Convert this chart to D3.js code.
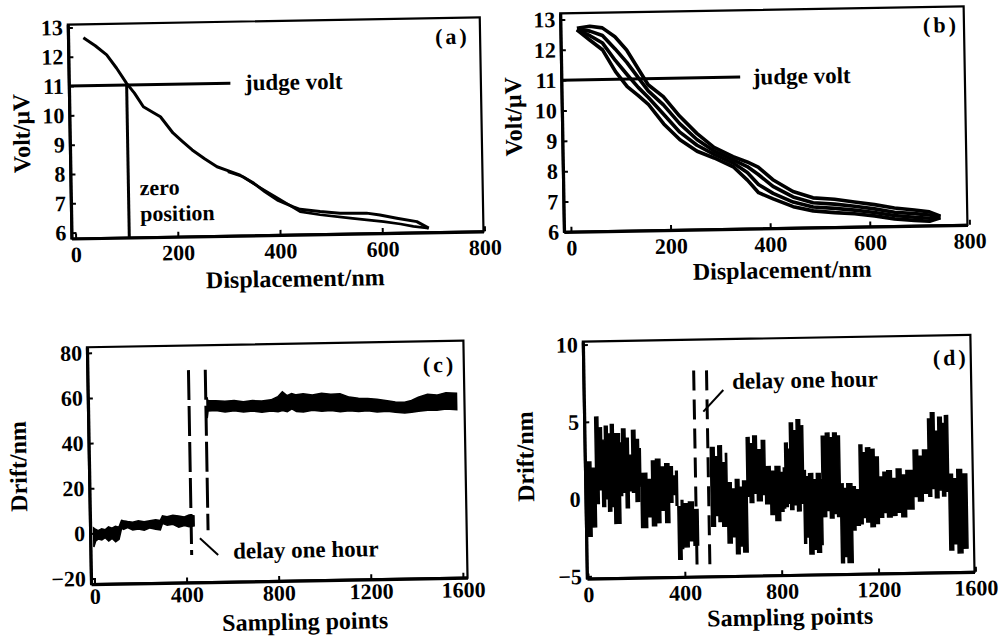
<!DOCTYPE html>
<html>
<head>
<meta charset="utf-8">
<script src="https://cdn.jsdelivr.net/npm/d3@7"></script>
<style>
  body { margin: 0; background: #fff; }
  svg { display: block; font-family: "Liberation Serif", "DejaVu Serif", serif; font-weight: bold; }
</style>
</head>
<body>
<script>
// ---- data ----

// (a) single approach curve + the return branch near the end
var aX = [22, 45, 67, 86, 105, 120, 137, 155, 170, 194, 212, 231, 255, 279, 300, 324, 350, 372, 396, 427, 440, 479, 518, 570, 596, 629, 668, 691]
var aV = [12.64, 12.36, 12.04, 11.58, 11.06, 10.72, 10.25, 10.06, 9.90, 9.34, 9.05, 8.75, 8.44, 8.16, 8.02, 7.86, 7.58, 7.28, 6.99, 6.75, 6.66, 6.57, 6.50, 6.49, 6.42, 6.30, 6.17, 5.94]
var aBackX = [300, 330, 360, 400, 440, 479, 538, 570, 603, 636, 661, 691]
var aBackV = [7.98, 7.80, 7.45, 7.02, 6.58, 6.46, 6.33, 6.26, 6.19, 6.10, 6.01, 5.94]

// (b) four repeated curves
var bX = [19, 45, 70, 95, 118, 140, 160, 190, 222, 256, 290, 328, 356, 378, 407, 447, 487, 530, 570, 610, 650, 690, 720, 742]
var bV1 = [12.70, 12.76, 12.70, 12.40, 11.96, 11.35, 10.80, 10.40, 9.75, 9.17, 8.70, 8.38, 8.20, 8.02, 7.60, 7.20, 6.98, 6.92, 6.82, 6.72, 6.60, 6.52, 6.45, 6.30]
var bV2 = [12.68, 12.60, 12.45, 12.00, 11.55, 11.05, 10.60, 10.13, 9.50, 8.97, 8.58, 8.28, 8.05, 7.78, 7.38, 7.02, 6.82, 6.76, 6.68, 6.58, 6.46, 6.40, 6.35, 6.28]
var bV3 = [12.66, 12.45, 12.20, 11.62, 11.15, 10.72, 10.38, 9.82, 9.22, 8.78, 8.47, 8.17, 7.85, 7.45, 7.15, 6.85, 6.68, 6.62, 6.55, 6.46, 6.35, 6.28, 6.24, 6.26]
var bV4 = [12.65, 12.30, 11.97, 11.25, 10.75, 10.45, 10.15, 9.50, 8.97, 8.58, 8.35, 8.05, 7.60, 7.18, 6.97, 6.70, 6.55, 6.48, 6.43, 6.35, 6.24, 6.18, 6.14, 6.25]

// (c) drift band before and after the one hour delay (upper / lower edge)
var cX1 = [0, 8, 20, 35, 50, 65, 80, 95, 110, 122, 130, 148, 170, 195, 220, 245, 270, 290, 300, 320, 345, 370, 395, 415, 437]
var cHi1 = [2.4, 1.8, 1.2, 2.0, 1.5, 2.8, 2.2, 3.0, 2.5, 5.6, 5.4, 5.0, 4.6, 5.3, 4.8, 5.2, 5.6, 5.2, 7.2, 6.8, 7.4, 7.0, 6.6, 7.4, 7.0]
var cLo1 = [-6.0, -3.5, -2.5, -3.0, -2.0, -3.5, -2.4, -3.9, -2.8, 2.1, 1.5, 2.3, 1.2, 1.6, 1.0, 2.0, 1.4, 1.0, 3.9, 3.0, 3.4, 2.1, 2.8, 2.2, 2.6]
var cX2 = [502, 506, 540, 580, 620, 660, 700, 740, 780, 810, 830, 850, 870, 890, 920, 960, 1000, 1040, 1080, 1120, 1160, 1200, 1240, 1285, 1320, 1360, 1390, 1420, 1460, 1500, 1540, 1586]
var cHi2 = [59.5, 58.0, 57.8, 57.5, 57.8, 57.2, 57.6, 57.4, 57.8, 59.1, 61.3, 59.5, 60.4, 59.8, 60.2, 59.6, 60.3, 59.8, 60.0, 58.4, 57.8, 57.6, 57.2, 56.5, 55.9, 55.7, 56.4, 57.8, 59.0, 58.6, 59.6, 59.3]
var cLo2 = [50.2, 53.3, 53.5, 52.8, 53.2, 52.6, 53.0, 52.4, 52.8, 52.5, 53.0, 52.4, 53.6, 52.4, 52.2, 52.8, 52.3, 52.6, 52.0, 52.4, 51.9, 52.2, 51.6, 51.8, 51.3, 50.9, 51.2, 51.6, 52.0, 51.9, 52.4, 52.0]

// (d) compensated drift, blocks of noise (upper / lower edge)
var dX1 = [0, 20, 39, 52, 66, 78, 90, 103, 115, 128, 140, 149, 163, 176, 190, 204, 218, 225, 250, 270, 287, 305, 325, 342, 356, 369, 376, 390, 397, 420, 440, 459]
var dHi1 = [2.4, 2.0, 5.3, 4.6, 3.8, 4.7, 4.2, 4.8, 4.2, 4.2, 3.6, 4.5, 3.9, 2.8, 4.4, 3.8, 3.2, 1.6, 1.2, 2.4, 2.5, 2.0, 2.2, 2.0, 1.4, 1.7, -0.6, -0.2, -0.4, -0.3, -0.8, -0.8]
var dLo1 = [-2.4, -1.8, -0.3, 0.6, -0.5, 0.0, -0.8, -0.5, -1.6, -1.6, 0.2, 0.4, -0.6, 0.5, 0.4, -0.2, 0.8, -1.9, -1.2, -1.8, -1.6, -0.8, -1.6, -0.3, 0.2, -0.5, -4.0, -3.3, -3.2, -2.8, -3.1, -3.1]
var dX2 = [514, 530, 545, 560, 576, 581, 598, 615, 630, 645, 663, 675, 690, 705, 725, 739, 760, 780, 800, 814, 821, 832, 842, 855, 870, 885, 897, 905, 918, 935, 950, 966, 973, 990, 1005, 1020, 1035, 1048, 1060, 1075, 1096, 1110, 1128, 1140, 1155, 1172, 1190, 1207, 1225, 1241, 1260, 1280, 1300, 1320, 1351, 1370, 1390, 1413, 1425, 1440, 1455, 1470, 1483, 1496, 1512, 1530, 1550, 1571]
var dHi2 = [3.2, 2.6, 3.3, 2.2, 2.8, 0.9, 0.5, 1.1, 0.6, 1.0, 3.8, 3.4, 3.9, 3.0, 3.6, 1.9, 1.6, 1.9, 1.5, 1.8, 3.4, 3.0, 4.7, 4.2, 4.9, 4.5, 1.6, 1.2, 1.4, 1.0, 1.4, 1.0, 3.8, 4.0, 3.7, 4.0, 3.8, 0.7, 0.4, 0.7, 0.5, 0.3, 3.2, 2.7, 3.0, 2.9, 2.4, 1.1, 1.4, 1.5, 1.0, 1.6, 1.2, 1.5, 2.8, 2.4, 2.8, 4.8, 5.2, 4.0, 4.9, 4.5, 5.0, 1.2, 0.9, 1.5, 1.2, 1.2]
var dLo2 = [-1.9, -1.2, -1.6, -1.9, -1.0, -3.0, -2.6, -3.7, -3.2, -3.6, 0.0, -0.4, 0.2, -0.3, 0.1, -0.5, -1.2, -1.6, -1.0, -0.8, -0.7, -0.5, -0.9, -0.6, -1.0, -0.5, -3.1, -2.7, -3.8, -3.5, -3.7, -3.2, -1.4, -1.0, -1.5, -1.2, -1.4, -4.4, -4.0, -4.4, -2.3, -2.0, -1.9, -1.5, -1.8, -2.1, -1.9, -1.5, -1.2, -1.5, -1.4, -1.2, -1.5, -1.0, -0.2, -0.5, 0.0, -0.2, 0.3, -0.3, 0.2, -0.2, 0.1, -3.7, -3.3, -3.9, -3.6, -3.6]

// reference lines and marks
var judgeVolt = 11
var zeroPosition = 105
var cDelay = [424, 497]
var dDelay = [451, 504]

// tick labels
var voltTicks = [6, 7, 8, 9, 10, 11, 12, 13]
var dispTicks = [0, 200, 400, 600, 800]
var sampleTicks = [0, 400, 800, 1200, 1600]
var cDriftTicks = [-20, 0, 20, 40, 60, 80]
var dDriftTicks = [-5, 0, 5, 10]


var svg = d3.select('body').append('svg')
    .attr('width', 1007)
    .attr('height', 636)

svg.append('rect').attr('width', 1007).attr('height', 636).attr('fill', '#fff')

// the scan is turned about one degree
var page = svg.append('g').attr('transform', 'rotate(-1,503,318)')

var fmt = d3.format('d')

var panel = function(o){
  var g = page.append('g')

  var x = d3.scaleLinear().domain(o.xDom).range([o.left, o.right])
  var y = d3.scaleLinear().domain(o.yDom).range([o.bottom, o.top])

  // frame
  g.append('rect')
    .attr('x', o.left)
    .attr('y', o.top)
    .attr('width', o.right - o.left)
    .attr('height', o.bottom - o.top)
    .attr('fill', 'none')
    .attr('stroke', '#000')
    .attr('stroke-width', 2.2)

  var xAxis = d3.axisBottom(x)
    .tickValues(o.xTicks)
    .tickFormat(fmt)
    .tickSizeInner(-5)
    .tickSizeOuter(0)
    .tickPadding(o.xPad)
  g.append('g')
    .attr('class', 'axis')
    .attr('transform', 'translate(0,' + o.bottom + ')')
    .call(xAxis)

  var yAxis = d3.axisLeft(y)
    .tickValues(o.yTicks)
    .tickFormat(fmt)
    .tickSizeInner(-5)
    .tickSizeOuter(0)
    .tickPadding(5)
  g.append('g')
    .attr('class', 'axis')
    .attr('transform', 'translate(' + o.left + ',0)')
    .call(yAxis)

  g.selectAll('.axis')
    .attr('font-family', null)
    .attr('font-size', 22)
  g.selectAll('.axis .domain').attr('stroke-width', 3.2)
  g.selectAll('.axis .tick line').attr('stroke-width', 2)

  // titles
  g.append('text')
    .attr('text-anchor', 'middle')
    .attr('font-size', 24)
    .attr('x', o.xTitle[0])
    .attr('y', o.xTitle[1])
    .text(o.xLabel)

  g.append('text')
    .attr('text-anchor', 'middle')
    .attr('font-size', 24)
    .attr('dy', '0.33em')
    .attr('transform', 'translate(' + o.yTitle[0] + ',' + o.yTitle[1] + ') rotate(-90)')
    .text(o.yLabel)

  g.append('text')
    .attr('font-size', 22)
    .attr('letter-spacing', 3)
    .attr('x', o.tag[0])
    .attr('y', o.tag[1])
    .text(o.tagText)

  return {g: g, x: x, y: y}
}

var pick = function(xs, vs){
  return xs.map(function(d, i){ return [d, vs[i]] })
}
var pickBand = function(xs, hi, lo){
  return xs.map(function(d, i){ return {x: d, hi: hi[i], lo: lo[i]} })
}


// ---------- (a) ----------
var A = panel({
  left: 73, right: 485, top: 17, bottom: 231,
  xDom: [-8, 798], yDom: [5.8, 13.1],
  xTicks: dispTicks, yTicks: voltTicks, xPad: 8,
  xLabel: 'Displacement/nm', xTitle: [296, 283],
  yLabel: 'Volt/\u03bcV', yTitle: [25, 125],
  tagText: '(a)', tag: [440, 43]
})

var aLine = d3.line()
  .x(function(d){ return A.x(d[0]) })
  .y(function(d){ return A.y(d[1]) })

A.g.append('line')
  .attr('x1', A.x(A.x.domain()[0]))
  .attr('x2', A.x(308))
  .attr('y1', A.y(judgeVolt))
  .attr('y2', A.y(judgeVolt))
  .attr('stroke', '#000')
  .attr('stroke-width', 3)

A.g.append('line')
  .attr('x1', A.x(zeroPosition))
  .attr('x2', A.x(zeroPosition))
  .attr('y1', A.y(judgeVolt))
  .attr('y2', A.y(A.y.domain()[0]))
  .attr('stroke', '#000')
  .attr('stroke-width', 3)

A.g.append('path')
  .attr('d', aLine(pick(aBackX, aBackV)))
  .attr('fill', 'none')
  .attr('stroke', '#000')
  .attr('stroke-width', 2.6)
  .attr('stroke-linejoin', 'round')

A.g.append('path')
  .attr('d', aLine(pick(aX, aV)))
  .attr('fill', 'none')
  .attr('stroke', '#000')
  .attr('stroke-width', 3)
  .attr('stroke-linejoin', 'round')

A.g.append('text').attr('font-size', 23).attr('x', 249).attr('y', 86).text('judge volt')
A.g.append('text').attr('font-size', 22).attr('x', 142).attr('y', 189).text('zero')
A.g.append('text').attr('font-size', 22).attr('x', 142).attr('y', 215).text('position')


// ---------- (b) ----------
var B = panel({
  left: 565.5, right: 969, top: 14.5, bottom: 233,
  xDom: [-14, 796], yDom: [6, 13.2],
  xTicks: dispTicks, yTicks: voltTicks, xPad: 8,
  xLabel: 'Displacement/nm', xTitle: [783, 283],
  yLabel: 'Volt/\u03bcV', yTitle: [517, 117],
  tagText: '(b)', tag: [928, 40]
})

var bLine = d3.line()
  .x(function(d){ return B.x(d[0]) })
  .y(function(d){ return B.y(d[1]) })

B.g.append('line')
  .attr('x1', B.x(B.x.domain()[0]))
  .attr('x2', B.x(345))
  .attr('y1', B.y(judgeVolt))
  .attr('y2', B.y(judgeVolt))
  .attr('stroke', '#000')
  .attr('stroke-width', 3)

B.g.selectAll('.trace')
  .data([bV1, bV2, bV3, bV4])
  .enter()
  .append('path')
  .attr('class', 'trace')
  .attr('d', function(v){ return bLine(pick(bX, v)) })
  .attr('fill', 'none')
  .attr('stroke', '#000')
  .attr('stroke-width', 3.6)
  .attr('stroke-linejoin', 'round')

B.g.append('text').attr('font-size', 23).attr('x', 757).attr('y', 89).text('judge volt')


// ---------- (c) ----------
var C = panel({
  left: 86.5, right: 463, top: 340, bottom: 577,
  xDom: [-15, 1620], yDom: [-22.5, 82.5],
  xTicks: sampleTicks, yTicks: cDriftTicks, xPad: 4,
  xLabel: 'Sampling points', xTitle: [300, 626],
  yLabel: 'Drift/nm', yTitle: [16, 458],
  tagText: '(c)', tag: [422, 371]
})

var cArea = d3.area()
  .x(function(d){ return C.x(d.x) })
  .y0(function(d){ return C.y(d.lo) })
  .y1(function(d){ return C.y(d.hi) })

C.g.selectAll('.band')
  .data([pickBand(cX1, cHi1, cLo1), pickBand(cX2, cHi2, cLo2)])
  .enter()
  .append('path')
  .attr('class', 'band')
  .attr('d', cArea)
  .attr('fill', '#000')
  .attr('stroke', '#000')
  .attr('stroke-width', 1.5)

C.g.append('line')
  .attr('x1', C.x(cDelay[0])).attr('x2', C.x(cDelay[0]))
  .attr('y1', C.y(71.6)).attr('y2', C.y(-10.3))
  .attr('stroke', '#000').attr('stroke-width', 3).attr('stroke-dasharray', '30,6')
C.g.append('line')
  .attr('x1', C.x(cDelay[1])).attr('x2', C.x(cDelay[1]))
  .attr('y1', C.y(71.6)).attr('y2', C.y(0.5))
  .attr('stroke', '#000').attr('stroke-width', 3).attr('stroke-dasharray', '30,6')

C.g.append('line')
  .attr('x1', C.x(461)).attr('y1', C.y(-3.0))
  .attr('x2', C.x(539)).attr('y2', C.y(-10.5))
  .attr('stroke', '#000').attr('stroke-width', 2)

C.g.append('text').attr('font-size', 23).attr('x', 229).attr('y', 554).text('delay one hour')


// ---------- (d) ----------
var D = panel({
  left: 582.4, right: 970, top: 343, bottom: 580,
  xDom: [-4.5, 1596], yDom: [-5.14, 10.2],
  xTicks: sampleTicks, yTicks: dDriftTicks, xPad: 8,
  xLabel: 'Sampling points', xTitle: [785, 630],
  yLabel: 'Drift/nm', yTitle: [523, 457],
  tagText: '(d)', tag: [932, 373]
})

var dArea = d3.area()
  .curve(d3.curveStepAfter)
  .x(function(d){ return D.x(d.x) })
  .y0(function(d){ return D.y(d.lo) })
  .y1(function(d){ return D.y(d.hi) })

D.g.selectAll('.band')
  .data([pickBand(dX1, dHi1, dLo1), pickBand(dX2, dHi2, dLo2)])
  .enter()
  .append('path')
  .attr('class', 'band')
  .attr('d', dArea)
  .attr('fill', '#000')
  .attr('stroke', '#000')
  .attr('stroke-width', 1.5)

D.g.selectAll('.delay')
  .data(dDelay)
  .enter()
  .append('line')
  .attr('class', 'delay')
  .attr('x1', function(d){ return D.x(d) })
  .attr('x2', function(d){ return D.x(d) })
  .attr('y1', D.y(8.2))
  .attr('y2', D.y(-4.6))
  .attr('stroke', '#000')
  .attr('stroke-width', 3)
  .attr('stroke-dasharray', '20,9')

D.g.append('line')
  .attr('x1', D.x(488)).attr('y1', D.y(5.53))
  .attr('x2', D.x(572)).attr('y2', D.y(6.91))
  .attr('stroke', '#000').attr('stroke-width', 2)

D.g.append('text').attr('font-size', 23).attr('x', 731).attr('y', 393).text('delay one hour')
</script>
</body>
</html>
